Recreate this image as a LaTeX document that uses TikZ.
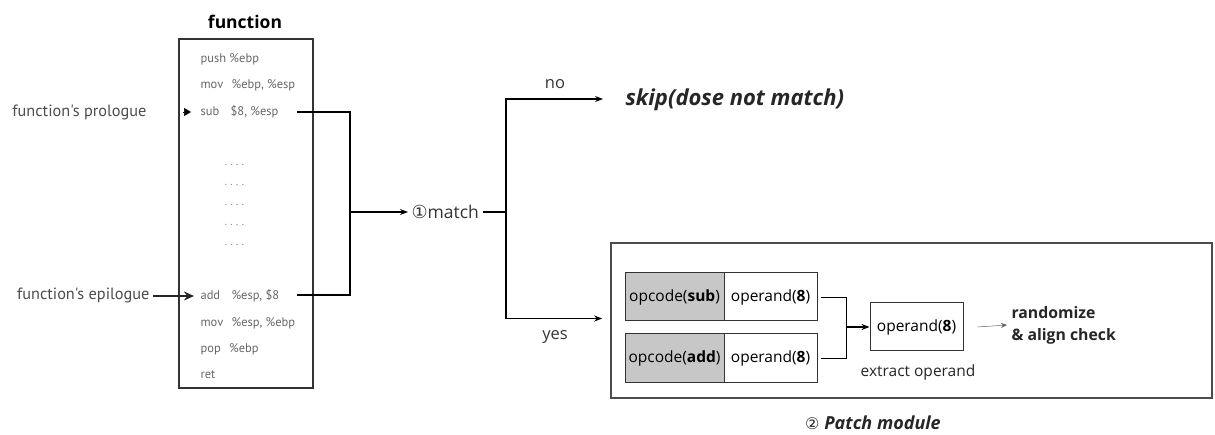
\documentclass[tikz,border=0pt]{standalone}
\usepackage{fontspec}
\setmainfont{Open Sans}
\newfontfamily\lbl{PT Sans}
\newfontfamily\sym{DejaVu Sans}
\usetikzlibrary{arrows.meta,calc}
\begin{document}
\begin{tikzpicture}[x=1pt,y=-1pt,
  line width=1.1pt,
  arr/.style={-{Stealth[length=8pt,width=6pt]}},
  code/.style={anchor=west,inner sep=0pt,font=\lbl\fontsize{12.5}{13}\selectfont,text=black!60},
  side/.style={inner sep=0pt,font=\lbl\fontsize{16.3}{18}\selectfont,text=black!70},
  cell/.style={draw=black!80,line width=1pt,minimum height=48pt,inner sep=0pt,font=\fontsize{15.5}{17}\selectfont},
  dots/.style={anchor=west,inner sep=0pt,font=\fontsize{10}{10}\selectfont,text=black!50}]
\useasboundingbox (0,0) rectangle (1215,435);
% function box
\node[font=\bfseries\fontsize{17.5}{19}\selectfont,inner sep=0pt] (ftitle) at (245,22) {function};
\node[draw=black!80,line width=1.3pt,minimum width=134pt,minimum height=349pt,inner sep=0pt] (fbox) at (246,213.5) {};
\node[code] (push) at (200,59) {push \%ebp};
\node[code] (mov1) at (200,85) {mov\hspace{5pt} \%ebp, \%esp};
\node[code] (sub) at (200,112) {sub\hspace{8pt} \$8, \%esp};
\node[dots] (d1) at (224,165) {.\hspace{3pt}.\hspace{3pt}.\hspace{3pt}.};
\node[dots] (d2) at (224,185) {.\hspace{3pt}.\hspace{3pt}.\hspace{3pt}.};
\node[dots] (d3) at (224,205) {.\hspace{3pt}.\hspace{3pt}.\hspace{3pt}.};
\node[dots] (d4) at (224,225) {.\hspace{3pt}.\hspace{3pt}.\hspace{3pt}.};
\node[dots] (d5) at (224,245) {.\hspace{3pt}.\hspace{3pt}.\hspace{3pt}.};
\node[code] (add) at (200,296) {add\hspace{8pt} \%esp, \$8};
\node[code] (mov2) at (200,323) {mov\hspace{5pt} \%esp, \%ebp};
\node[code] (pop) at (200,349) {pop\hspace{5pt} \%ebp};
\node[code] (ret) at (200,375) {ret};
% side labels
\node[side,anchor=east] (pro) at (147,112) {function's prologue};
\node[side,anchor=east] (epi) at (150,295) {function's epilogue};
\draw[-{Triangle[length=7pt,width=8pt]},line width=0.5pt] ($(sub.west)+(-17,0)$) -- ($(sub.west)+(-9,0)$);
\coordinate (epiA) at ($(epi.east)+(3,1)$);
\coordinate (epiB) at ($(add.west)+(-6,0)$);
\draw[line width=2.4pt,draw=black!85,-{Stealth[length=10pt,width=9pt]}] (epiA) -- (epiB);
% to match
\node[anchor=west,inner sep=0pt,font=\fontsize{17.5}{19}\selectfont,text=black!80] (match) at (411,212) {{\sym\fontsize{18}{19}\selectfont ①}match};
\coordinate (subend) at (297,112);
\coordinate (addend) at (297,295);
\coordinate (j1) at (350,212);
\draw (subend) -| (j1);
\draw (addend) -| (j1);
\draw[arr] (j1) -- ($(match.west)+(-3,0)$);
\coordinate (j2) at (506,212);
\draw (match.east) ++(3,0) -- (j2);
% skip
\node[anchor=west,inner sep=0pt,font=\bfseries\itshape\fontsize{22}{24}\selectfont,text=black!85] (skip) at (625,100) {skip(dose not match)};
\draw[arr] (j2) |- ($(skip.west)+(-22,-1)$);
\node[inner sep=0pt,font=\fontsize{16.5}{18}\selectfont,text=black!80] (no) at (555,84) {no};
% patch module
\node[draw=black!70,line width=1.6pt,minimum width=601pt,minimum height=155pt,inner sep=0pt] (patch) at (911.5,320.5) {};
\draw[arr] (j2) |- ($(patch.west)+(-8,-2)$);
\node[inner sep=0pt,font=\fontsize{16.5}{18}\selectfont,text=black!80] (yes) at (555,337) {yes};
\node[cell,fill=black!22,minimum width=99pt] (opsub) at (674.5,297) {opcode(\textbf{sub})};
\node[cell,minimum width=93pt] (opnd1) at (770.5,297) {operand(\textbf{8})};
\node[cell,fill=black!22,minimum width=99pt] (opadd) at (674.5,358) {opcode(\textbf{add})};
\node[cell,minimum width=93pt] (opnd2) at (770.5,358) {operand(\textbf{8})};
\node[cell,minimum width=93pt] (opres) at (916.5,327) {operand(\textbf{8})};
\coordinate (j3) at (846,327);
\draw[line width=0.9pt] ($(opnd1.east)+(3,0)$) -| (j3);
\draw[line width=0.9pt] ($(opnd2.east)+(3,0)$) -| (j3);
\draw[arr,line width=1.6pt] (j3) -- (opres.west);
\node[inner sep=0pt,font=\fontsize{15.5}{17}\selectfont,text=black!85] (ext) at (918,372) {extract operand};
\node[anchor=west,align=left,inner sep=0pt,font=\bfseries\fontsize{15.8}{22}\selectfont,text=black!85] (rand) at (1011,325) {randomize\\\& align check};
\draw[-{Stealth[length=6pt,width=5pt]},line width=0.5pt,black!60] ($(opres.east)+(14,0)$) -- ($(rand.west)+(-4,0)$);
\node[inner sep=0pt,font=\fontsize{18}{20}\selectfont,text=black!85] (plabel) at (873,423) {{\sym\fontsize{16}{18}\selectfont ②}\ \textbf{\itshape Patch module}};
\end{tikzpicture}
\end{document}
